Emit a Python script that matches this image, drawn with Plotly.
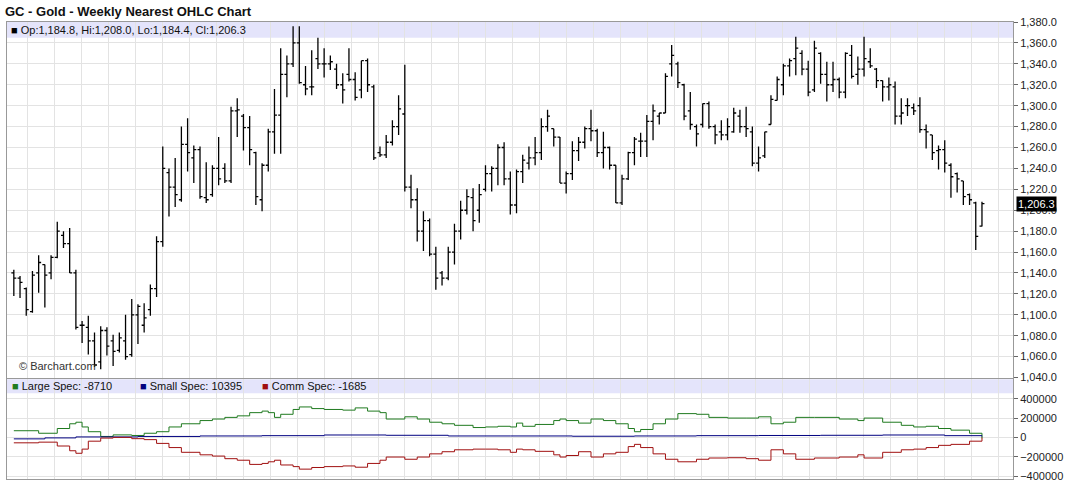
import plotly.graph_objects as go

opens = [1140,1135,1125,1103,1140,1148,1140,1155,1176,1168,1140,1090,1088,1075,1055,1085,1075,1066,1075,1062,
 1100,1090,1105,1125,1170,1236,1222,1210,1263,1250,1258,1212,1215,1240,1240,1228,1295,1290,1279,1255,
 1210,1243,1275,1291,1330,1340,1360,1320,1318,1345,1340,1340,1335,1320,1330,1325,1315,1343,1318,1255,
 1253,1265,1280,1292,1222,1210,1180,1190,1158,1140,1135,1160,1180,1200,1212,1200,1220,1235,1240,1260,
 1230,1205,1237,1245,1250,1255,1280,1278,1270,1226,1235,1257,1265,1278,1276,1255,1260,1243,1207,1230,
 1255,1266,1266,1285,1290,1293,1340,1340,1320,1295,1280,1282,1302,1280,1275,1272,1275,1290,1280,1275,
 1245,1252,1282,1305,1320,1338,1345,1350,1335,1315,1350,1330,1320,1325,1313,1348,1330,1335,1342,1335,
 1324,1318,1318,1290,1300,1298,1300,1277,1272,1257,1258,1243,1235,1228,1215,1207,1184.8]
highs = [1143,1137,1126,1142,1157,1148,1157,1189,1180,1183,1143,1094,1099,1083,1089,1088,1081,1083,1100,1115,
 1110,1111,1129,1175,1261,1240,1250,1280,1288,1262,1261,1246,1243,1270,1245,1299,1307,1292,1290,1256,
 1245,1278,1316,1355,1348,1376,1376,1338,1353,1365,1355,1348,1340,1331,1355,1332,1343,1345,1320,1261,
 1272,1286,1310,1339,1234,1221,1199,1192,1165,1142,1165,1187,1209,1220,1221,1225,1243,1242,1263,1265,
 1237,1239,1253,1261,1270,1288,1296,1278,1270,1237,1266,1270,1280,1296,1278,1275,1261,1243,1234,1256,
 1270,1274,1291,1301,1293,1331,1358,1342,1321,1313,1282,1302,1304,1282,1286,1288,1298,1296,1299,1280,
 1261,1275,1310,1328,1340,1345,1366,1353,1343,1362,1351,1342,1342,1327,1351,1358,1347,1366,1355,1336,
 1324,1327,1323,1307,1307,1302,1308,1282,1272,1262,1267,1245,1236,1228,1216,1208,1208.0]
lows = [1118,1116,1099,1102,1121,1107,1134,1154,1164,1140,1086,1073,1062,1050,1048,1061,1051,1064,1057,1060,
 1072,1083,1099,1117,1165,1194,1203,1208,1237,1226,1211,1207,1213,1224,1226,1226,1270,1257,1243,1205,
 1199,1237,1254,1254,1308,1337,1321,1310,1310,1335,1327,1334,1316,1302,1323,1305,1307,1313,1248,1251,
 1250,1262,1272,1218,1202,1170,1161,1156,1124,1128,1133,1148,1172,1196,1180,1188,1218,1218,1224,1224,
 1196,1197,1226,1239,1243,1248,1275,1261,1226,1216,1229,1247,1259,1266,1251,1240,1239,1207,1205,1229,
 1243,1251,1251,1267,1282,1293,1328,1317,1286,1277,1261,1279,1278,1263,1267,1267,1274,1274,1270,1242,
 1237,1250,1282,1305,1310,1328,1329,1329,1309,1313,1321,1304,1313,1307,1307,1326,1320,1328,1336,1317,
 1304,1305,1282,1282,1290,1291,1274,1259,1248,1239,1236,1212,1217,1205,1205,1162,1184.4]
closes = [1135,1131,1105,1138,1150,1138,1155,1180,1168,1140,1088,1090,1075,1052,1085,1070,1065,1078,1060,1100,
 1108,1097,1125,1170,1240,1222,1215,1263,1255,1258,1213,1210,1240,1230,1228,1295,1296,1279,1258,1213,
 1243,1275,1291,1330,1340,1360,1322,1316,1318,1340,1340,1342,1320,1315,1325,1308,1343,1320,1250,1253,
 1265,1280,1297,1222,1210,1180,1190,1158,1135,1135,1160,1180,1200,1213,1190,1215,1235,1240,1260,1230,
 1205,1237,1248,1250,1255,1280,1290,1270,1226,1235,1257,1265,1278,1276,1255,1260,1243,1207,1230,1255,
 1268,1266,1285,1295,1293,1328,1348,1322,1290,1282,1273,1302,1280,1272,1272,1280,1293,1280,1278,1245,
 1250,1275,1306,1325,1338,1343,1355,1335,1313,1355,1330,1320,1325,1313,1350,1328,1335,1345,1338,1324,
 1318,1320,1290,1293,1300,1295,1277,1275,1255,1258,1245,1232,1230,1213,1210,1175,1206.3]
weeks = list(range(len(closes)))

cot_weeks = [0,4,7,9,10,11,12,14,16,19,21,23,25,27,30,32,34,36,38,40,41,42,43,45,46,48,50,53,55,57,59,60,63,65,67,69,71,74,76,78,80,81,82,84,87,88,89,91,93,95,97,99,100,101,103,105,107,110,112,115,118,120,122,124,126,129,133,136,137,140,143,145,147,149,151,154,156]
large_spec = [69,43,92,141,157,108,59,10,26,20,43,59,108,141,174,190,207,223,256,272,256,207,239,289,315,298,289,282,305,272,256,190,213,190,157,141,125,102,108,115,108,148,115,134,174,190,174,148,190,174,141,92,59,82,141,190,246,239,207,200,200,213,141,157,207,207,190,174,200,157,125,108,115,92,75,43,-8.71]
comm_spec = [-56,-49,-89,-138,-164,-121,-39,-7,0,-13,-23,-62,-105,-154,-180,-193,-220,-236,-279,-269,-252,-236,-285,-302,-328,-311,-302,-295,-308,-269,-236,-203,-226,-203,-170,-148,-128,-121,-121,-128,-154,-121,-128,-144,-180,-203,-187,-148,-203,-170,-154,-95,-72,-105,-170,-226,-252,-226,-213,-210,-220,-236,-128,-170,-226,-213,-203,-180,-213,-154,-128,-121,-105,-82,-72,-39,-1.685]
small_weeks = [0,5,10,20,30,40,50,60,70,80,90,100,110,120,130,140,150,156]
small_spec = [-15,-5,5,10,15,18,25,22,15,15,12,15,18,20,22,25,18,10.395]

large_spec = [v*1000 for v in large_spec]
comm_spec = [v*1000 for v in comm_spec]
small_spec = [v*1000 for v in small_spec]

font = "Liberation Sans, Arial, sans-serif"
fig = go.Figure()
fig.add_trace(go.Ohlc(x=weeks, open=opens, high=highs, low=lows, close=closes,
    increasing=dict(line=dict(color="black", width=1.3)),
    decreasing=dict(line=dict(color="black", width=1.3)),
    tickwidth=0.4, xaxis="x", yaxis="y", hoverinfo="skip"))
for xs, ys, col in [(cot_weeks, large_spec, "#1f7a1f"), (small_weeks, small_spec, "#000080"), (cot_weeks, comm_spec, "#a01010")]:
    fig.add_trace(go.Scatter(x=xs, y=ys, mode="lines", line=dict(color=col, width=1, shape="hv"),
                             xaxis="x2", yaxis="y2", hoverinfo="skip"))

grid_weeks = [2.2 + 4.345*k for k in range(37)]
xcommon = dict(range=[-1.1, 161], showticklabels=False, tickvals=grid_weeks, showgrid=True,
               gridcolor="#e3e3e3", zeroline=False, showline=True, linecolor="#999", mirror=True,
               rangeslider=dict(visible=False))
pdom = [0.222, 1]
cdom = [0, 0.218]
fig.update_layout(
    width=1068, height=486, margin=dict(l=7, r=55, t=22, b=1),
    paper_bgcolor="white", plot_bgcolor="white", showlegend=False,
    xaxis=dict(domain=[0, 1], anchor="y", **xcommon),
    xaxis2=dict(domain=[0, 1], anchor="y2", **xcommon),
    yaxis=dict(domain=pdom, range=[1040, 1380], side="right", dtick=20, tickformat=",.1f",
               gridcolor="#e3e3e3", showline=True, linecolor="#999", mirror=True, zeroline=False,
               ticks="outside", ticklen=4, tickcolor="#666",
               tickfont=dict(family=font, size=11, color="#222")),
    yaxis2=dict(domain=cdom, range=[-430000, 600000], side="right",
                tickvals=[-400000, -200000, 0, 200000, 400000], tickformat="d",
                gridcolor="#e3e3e3", showline=True, linecolor="#999", mirror=True, zeroline=False,
                ticks="outside", ticklen=4, tickcolor="#666",
                tickfont=dict(family=font, size=11, color="#222")),
)
H = 463
strip_h = 16/H
fig.add_shape(type="rect", xref="paper", yref="paper", x0=0, x1=1, y0=1-strip_h, y1=1,
              fillcolor="#e4e4fb", line_width=0, layer="below")
fig.add_shape(type="rect", xref="paper", yref="paper", x0=0, x1=1, y0=cdom[1]-14/H, y1=cdom[1],
              fillcolor="#e4e4fb", line_width=0, layer="below")
ann = []
ann.append(dict(xref="paper", yref="paper", x=-4/1006, y=1, yshift=11, xanchor="left", yanchor="middle",
                text="<b>GC - Gold - Weekly Nearest OHLC Chart</b>", font=dict(family=font, size=13, color="#111")))
ann.append(dict(xref="paper", yref="paper", x=0.002, y=1-strip_h/2, xanchor="left", yanchor="middle",
                text="<span style='color:black'>■</span> Op:1,184.8, Hi:1,208.0, Lo:1,184.4, Cl:1,206.3",
                font=dict(family=font, size=11, color="#111")))
ann.append(dict(xref="paper", yref="paper", x=0.003, y=cdom[1]-7/H, xanchor="left", yanchor="middle",
                text="<span style='color:#1f7a1f'>■</span> Large Spec: -8710", font=dict(family=font, size=11, color="#111")))
ann.append(dict(xref="paper", yref="paper", x=0.13, y=cdom[1]-7/H, xanchor="left", yanchor="middle",
                text="<span style='color:#000080'>■</span> Small Spec: 10395", font=dict(family=font, size=11, color="#111")))
ann.append(dict(xref="paper", yref="paper", x=0.251, y=cdom[1]-7/H, xanchor="left", yanchor="middle",
                text="<span style='color:#a01010'>■</span> Comm Spec: -1685", font=dict(family=font, size=11, color="#111")))
ann.append(dict(xref="paper", yref="paper", x=0.01, y=pdom[0], yshift=12, xanchor="left", yanchor="middle",
                text="© Barchart.com", font=dict(family=font, size=11, color="#333")))
ann.append(dict(xref="paper", yref="y", x=1, y=closes[-1], xanchor="left", yanchor="middle", xshift=3,
                text="1,206.3", bgcolor="black", font=dict(family=font, size=11, color="white"),
                borderpad=1, showarrow=False))
for a in ann:
    a.setdefault("showarrow", False)
fig.update_layout(annotations=ann)
fig.write_html("out.html", config={"displayModeBar": False},
               post_script="document.body.style.margin='0';")
